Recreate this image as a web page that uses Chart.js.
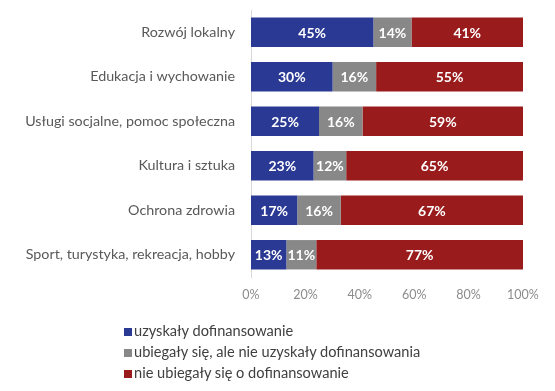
<!DOCTYPE html>
<html>
<head>
<meta charset="utf-8">
<script src="https://cdn.jsdelivr.net/npm/chart.js@4"></script>
<style>
    html, body { margin: 0; padding: 0; background: #fff; }
    #wrap { position: relative; width: 555px; height: 391px; }
    #legenda { position: absolute; left: 124px; top: 320px; font-family: Lato, sans-serif; font-size: 14.6px; color: #404040; }
    #legenda div { height: 21px; line-height: 21px; white-space: nowrap; }
    #legenda span { display: inline-block; width: 8px; height: 8px; margin-right: 2px; vertical-align: 0px; }
</style>
</head>
<body>
<div id="wrap">
    <canvas id="wykres" width="555" height="391"></canvas>
    <div id="legenda"></div>
</div>
<script>
const kategorie = [
    'Rozwój lokalny',
    'Edukacja i wychowanie',
    'Usługi socjalne, pomoc społeczna',
    'Kultura i sztuka',
    'Ochrona zdrowia',
    'Sport, turystyka, rekreacja, hobby'
];
const uzyskaly = [45, 30, 25, 23, 17, 13];
const nieUzyskaly = [14, 16, 16, 12, 16, 11];
const nieUbiegaly = [41, 55, 59, 65, 67, 77];
const nazwySerii = [
    'uzyskały dofinansowanie',
    'ubiegały się, ale nie uzyskały dofinansowania',
    'nie ubiegały się o dofinansowanie'
];
const kolory = ['#2a3994', '#888888', '#9a1b1b'];

// etykiety procentowe w srodku slupkow
const etykiety = {
    id: 'etykiety',
    afterDatasetsDraw(chart) {
        const ctx = chart.ctx;
        ctx.save();
        ctx.fillStyle = '#fff';
        ctx.font = 'bold 14px Lato, sans-serif';
        ctx.textAlign = 'center';
        ctx.textBaseline = 'middle';
        chart.data.datasets.forEach((ds, i) => {
            chart.getDatasetMeta(i).data.forEach((bar, j) => {
                const right = Math.min(bar.x, chart.chartArea.right);
                const x = (bar.base + right) / 2;
                ctx.fillText(ds.data[j] + '%', x, bar.y + 1);
            });
        });
        ctx.restore();
    }
};

new Chart(document.getElementById('wykres'), {
    type: 'bar',
    data: {
        labels: kategorie,
        datasets: [
            { label: nazwySerii[0], data: uzyskaly, backgroundColor: kolory[0] },
            { label: nazwySerii[1], data: nieUzyskaly, backgroundColor: kolory[1] },
            { label: nazwySerii[2], data: nieUbiegaly, backgroundColor: kolory[2] }
        ]
    },
    options: {
        indexAxis: 'y',
        responsive: false,
        animation: false,
        barPercentage: 0.66,
        categoryPercentage: 1,
        layout: { padding: { top: 10, bottom: 84, left: 0, right: 32 } },
        scales: {
            x: {
                stacked: true,
                min: 0,
                max: 100,
                grid: { display: false, drawTicks: false },
                border: { display: false },
                ticks: {
                    stepSize: 20,
                    padding: 10,
                    color: '#8c8c8c',
                    font: { family: 'Lato', size: 12.5 },
                    callback: v => v + '%'
                },
                afterFit: s => { s.height = 30; }
            },
            y: {
                stacked: true,
                grid: { display: false, drawTicks: false },
                border: { display: true, color: '#d9d9d9' },
                ticks: {
                    padding: 16,
                    color: '#595959',
                    font: { family: 'Lato', size: 14.3 }
                },
                afterFit: s => {
                    s.width = 251;
                    s.paddingTop = 0;
                    s.paddingBottom = 0;
                }
            }
        },
        plugins: {
            legend: { display: false },
            tooltip: { enabled: false }
        }
    },
    plugins: [etykiety]
});

const leg = document.getElementById('legenda');
nazwySerii.forEach((n, i) => {
    const d = document.createElement('div');
    d.innerHTML = '<span style="background:' + kolory[i] + '"></span>' + n;
    leg.appendChild(d);
});
</script>
</body>
</html>
